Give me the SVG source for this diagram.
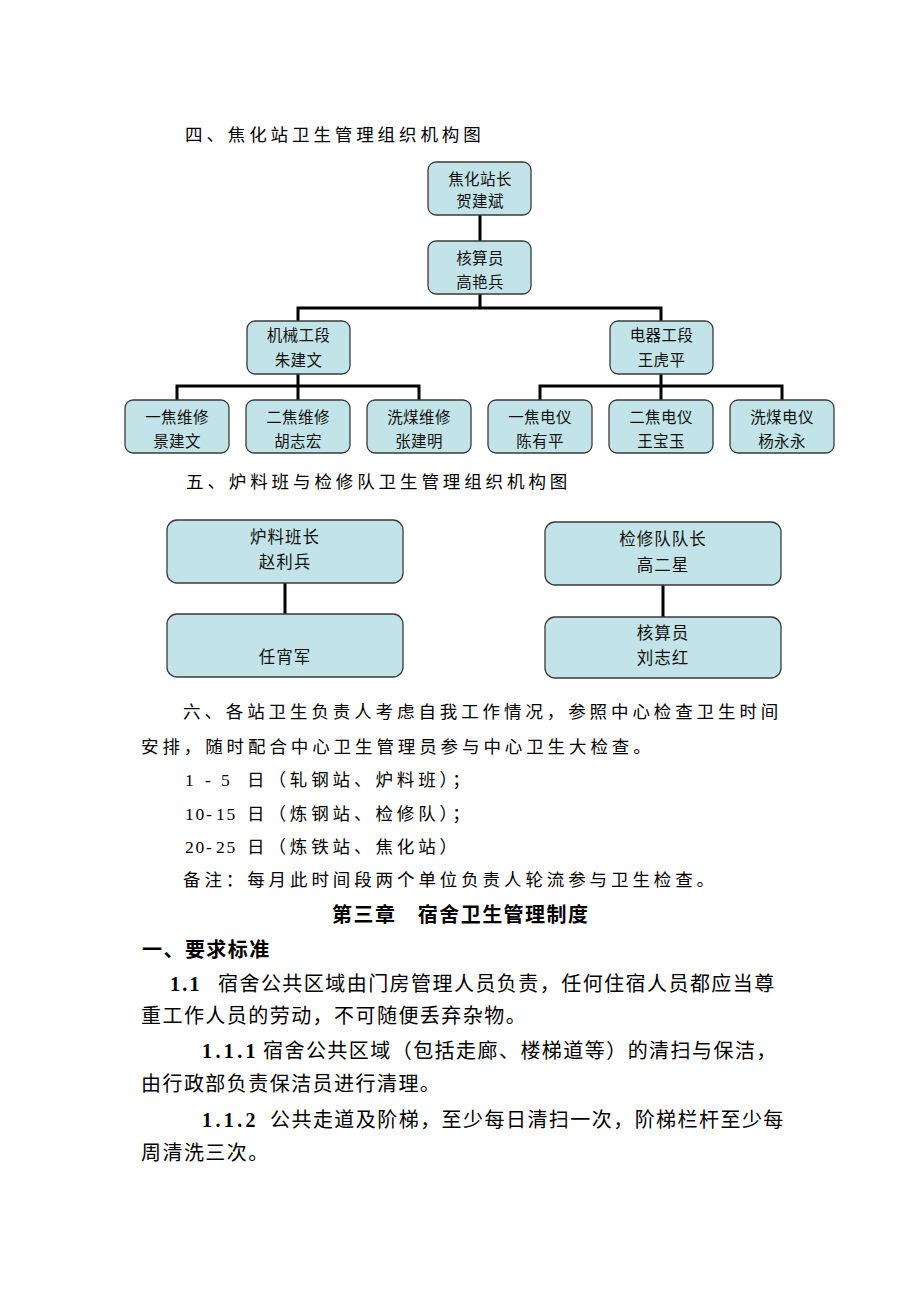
<svg xmlns="http://www.w3.org/2000/svg" width="920" height="1302" viewBox="0 0 920 1302">
<style>
.box{fill:#c2e4e8;stroke:#3a3a3a;stroke-width:1.3}
.lbl{font-family:"Liberation Serif","Noto Sans CJK SC",serif;font-size:15.5px;letter-spacing:0.4px;text-anchor:middle;fill:#111}
.lbl2{font-family:"Liberation Serif","Noto Sans CJK SC",serif;font-size:16.5px;letter-spacing:1px;text-anchor:middle;fill:#111}
.conn{stroke:#000;stroke-width:3;fill:none;stroke-linecap:square}
.t16{font-family:"Liberation Serif","Noto Sans CJK SC",serif;font-size:17.5px;letter-spacing:3.9px;fill:#000}
.t20{font-family:"Liberation Serif","Noto Sans CJK SC",serif;font-size:20px;letter-spacing:1.45px;fill:#000}
.b{font-weight:700}
</style>
<rect width="920" height="1302" fill="#fff"/>

<text class="t16" x="185" y="141">四、焦化站卫生管理组织机构图</text>

<g id="connectors">
<path class="conn" d="M480 215V241M480 294V308M298 308H661M298 308V321M661 308V321"/>
<path class="conn" d="M298 374V386M177 386H419M177 386V400M298 386V400M419 386V400"/>
<path class="conn" d="M661 374V386M540 386H782M540 386V400M661 386V400M782 386V400"/>
<path class="conn" d="M285 583V614M663 585V617"/>
</g>

<g id="n-zhanzhang"><rect class="box" x="428" y="162" width="103" height="53" rx="8"/><text class="lbl" x="480" y="185">焦化站长</text><text class="lbl" x="480" y="206.5">贺建斌</text></g>
<g id="n-hesuan1"><rect class="box" x="428" y="241" width="103" height="53" rx="8"/><text class="lbl" x="480" y="264">核算员</text><text class="lbl" x="480" y="288">高艳兵</text></g>
<g id="n-jixie"><rect class="box" x="247" y="321" width="103" height="53" rx="8"/><text class="lbl" x="298.5" y="341">机械工段</text><text class="lbl" x="298.5" y="366">朱建文</text></g>
<g id="n-dianqi"><rect class="box" x="610" y="321" width="103" height="53" rx="8"/><text class="lbl" x="661.5" y="341">电器工段</text><text class="lbl" x="661.5" y="366">王虎平</text></g>
<g id="n-b1"><rect class="box" x="125" y="400" width="104" height="53" rx="8"/><text class="lbl" x="177" y="422.5">一焦维修</text><text class="lbl" x="177" y="447">景建文</text></g>
<g id="n-b2"><rect class="box" x="246" y="400" width="104" height="53" rx="8"/><text class="lbl" x="298" y="422.5">二焦维修</text><text class="lbl" x="298" y="447">胡志宏</text></g>
<g id="n-b3"><rect class="box" x="367" y="400" width="104" height="53" rx="8"/><text class="lbl" x="419" y="422.5">洗煤维修</text><text class="lbl" x="419" y="447">张建明</text></g>
<g id="n-b4"><rect class="box" x="488" y="400" width="104" height="53" rx="8"/><text class="lbl" x="540" y="422.5">一焦电仪</text><text class="lbl" x="540" y="447">陈有平</text></g>
<g id="n-b5"><rect class="box" x="609" y="400" width="104" height="53" rx="8"/><text class="lbl" x="661" y="422.5">二焦电仪</text><text class="lbl" x="661" y="447">王宝玉</text></g>
<g id="n-b6"><rect class="box" x="730" y="400" width="104" height="53" rx="8"/><text class="lbl" x="782" y="422.5">洗煤电仪</text><text class="lbl" x="782" y="447">杨永永</text></g>

<text class="t16" x="186" y="488">五、炉料班与检修队卫生管理组织机构图</text>

<g id="n-luliao"><rect class="box" x="167" y="520" width="236" height="63" rx="10"/><text class="lbl2" x="285" y="543">炉料班长</text><text class="lbl2" x="285" y="568">赵利兵</text></g>
<g id="n-ren"><rect class="box" x="167" y="614" width="236" height="63" rx="10"/><text class="lbl2" x="285" y="663">任宵军</text></g>
<g id="n-jianxiu"><rect class="box" x="545" y="522" width="236" height="63" rx="10"/><text class="lbl2" x="663" y="545">检修队队长</text><text class="lbl2" x="663" y="571">高二星</text></g>
<g id="n-hesuan2"><rect class="box" x="545" y="617" width="236" height="61" rx="10"/><text class="lbl2" x="663" y="639">核算员</text><text class="lbl2" x="663" y="664">刘志红</text></g>

<text class="t16" x="183" y="718">六、各站卫生负责人考虑自我工作情况，参照中心检查卫生时间</text>
<text class="t16" x="141" y="753">安排，随时配合中心卫生管理员参与中心卫生大检查。</text>
<text class="t16" y="786"><tspan x="185 205 221">1-5</tspan><tspan x="247">日（轧钢站、炉料班）；</tspan></text>
<text class="t16" y="820"><tspan x="185 195.5 206 216 226.5">10-15</tspan><tspan x="247">日（炼钢站、检修队）；</tspan></text>
<text class="t16" y="853"><tspan x="185 195.5 206 216 226.5">20-25</tspan><tspan x="247">日（炼铁站、焦化站）</tspan></text>
<text class="t16" x="183" y="886">备注：每月此时间段两个单位负责人轮流参与卫生检查。</text>

<text class="t20 b" x="332" y="922">第三章　宿舍卫生管理制度</text>
<text class="t20 b" x="142" y="957">一、要求标准</text>
<text class="t20" y="991"><tspan class="b" x="170" textLength="31" lengthAdjust="spacing">1.1</tspan><tspan x="218">宿舍公共区域由门房管理人员负责，任何住宿人员都应当尊</tspan></text>
<text class="t20" x="141" y="1023">重工作人员的劳动，不可随便丢弃杂物。</text>
<text class="t20" y="1058"><tspan class="b" x="202" textLength="55" lengthAdjust="spacing">1.1.1</tspan><tspan x="263">宿舍公共区域（包括走廊、楼梯道等）的清扫与保洁，</tspan></text>
<text class="t20" x="141" y="1091">由行政部负责保洁员进行清理。</text>
<text class="t20" y="1127"><tspan class="b" x="202" textLength="55" lengthAdjust="spacing">1.1.2</tspan><tspan x="270">公共走道及阶梯，至少每日清扫一次，阶梯栏杆至少每</tspan></text>
<text class="t20" x="141" y="1160">周清洗三次。</text>
</svg>
